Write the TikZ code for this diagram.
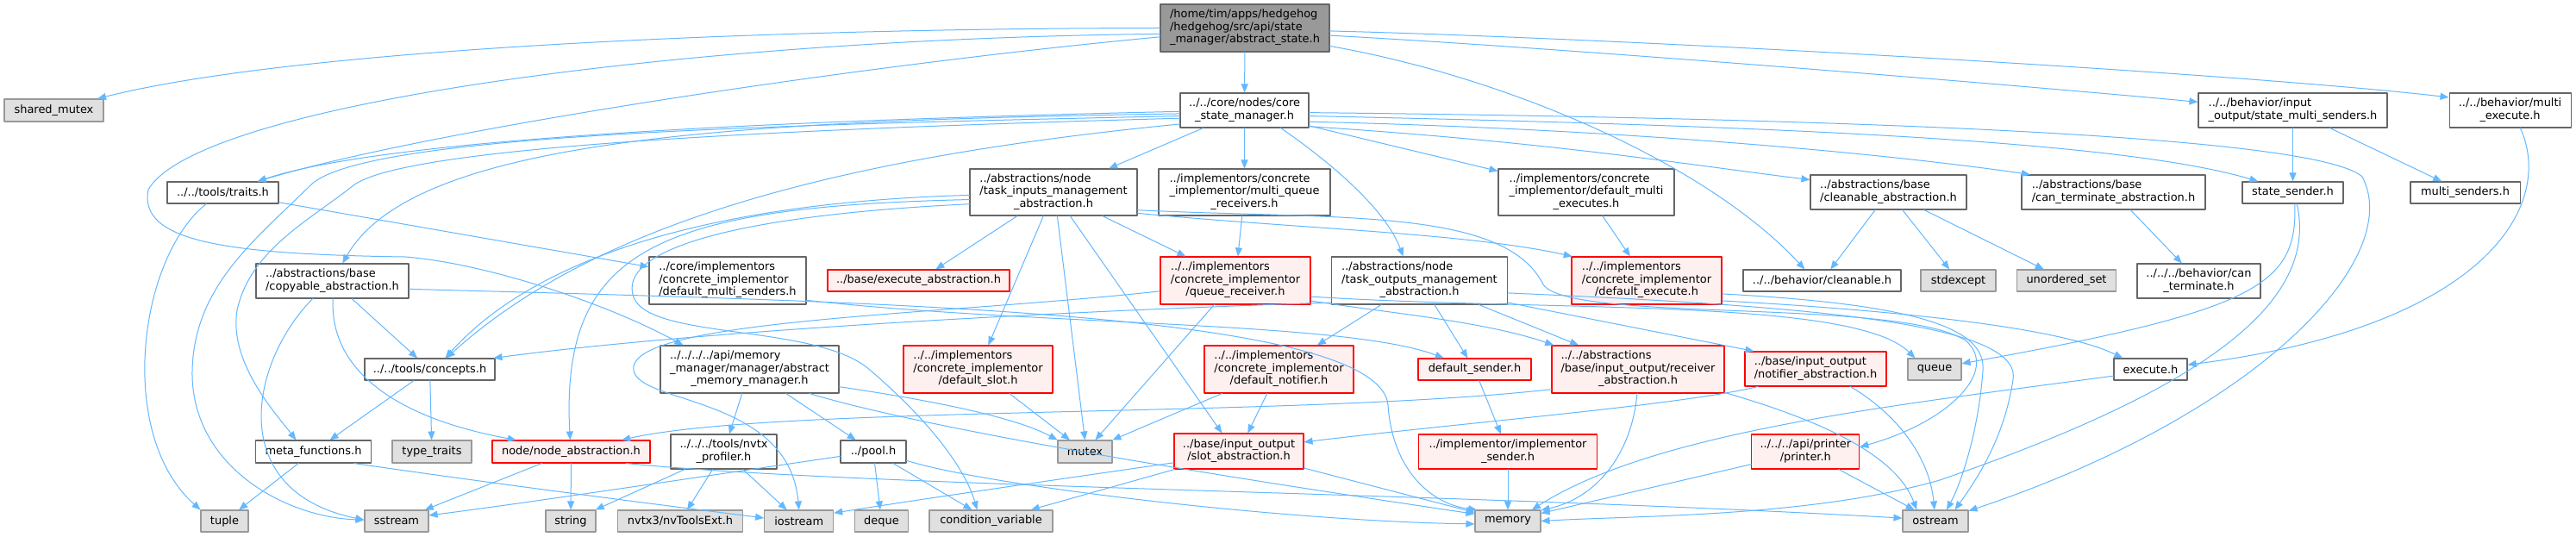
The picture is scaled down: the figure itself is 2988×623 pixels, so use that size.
\documentclass[tikz,border=0pt]{standalone}
\usepackage{fontspec}
\setmainfont{DejaVu Sans}
\usetikzlibrary{arrows.meta}
\definecolor{edgeblue}{HTML}{63B8FF}
\definecolor{boxline}{HTML}{666666}
\definecolor{extline}{HTML}{999999}
\definecolor{extfill}{HTML}{E0E0E0}
\definecolor{mainfill}{HTML}{999999}
\definecolor{trfill}{HTML}{FFF0F0}
\newcommand{\flines}[2]{\begin{tabular}{@{}l@{}}#1\\\multicolumn{1}{@{}c@{}}{#2}\end{tabular}}
\begin{document}
\begin{tikzpicture}[x=0.75pt,y=-0.75pt,line cap=round,line join=round,
  font=\fontsize{9.7}{10.9}\selectfont,
  file/.style={draw=boxline,fill=white,line width=0.8pt,inner xsep=0pt,inner ysep=0pt,minimum height=25*0.75pt},
  sysfile/.style={file,draw=extline,fill=extfill},
  cutfile/.style={file,draw=red,fill=trfill},
  topfile/.style={file,fill=mainfill},
  wd/.style={minimum width=#1*0.75pt},
  ht/.style={minimum height=#1*0.75pt},
  dep/.style={draw=edgeblue,line width=0.75pt,-{Triangle[length=7.5pt,width=6pt]}}]
  \useasboundingbox (0,0) rectangle (2988,623);
  \fill[white] (0,0) rectangle (2988,623);
  % row 0
  \node[topfile,wd=196,ht=55] (main) at (1444,32.5) {\flines{/home/tim/apps/hedgehog\\/hedgehog/src/api/state}{\_manager/abstract\_state.h}};
  % row 1
  \node[sysfile,wd=115,ht=26] (shmutex) at (62.5,128) {shared\_mutex};
  \node[file,wd=149,ht=40] (stm) at (1443.5,128) {\flines{../../core/nodes/core}{\_state\_manager.h}};
  \node[file,wd=219,ht=40] (sms) at (2659.5,128) {\flines{../../behavior/input}{\_output/state\_multi\_senders.h}};
  \node[file,wd=141,ht=40] (bme) at (2911.5,128) {\flines{../../behavior/multi}{\_execute.h}};
  % row 2
  \node[file,wd=129] (traits) at (258.5,223.5) {../../tools/traits.h};
  \node[file,wd=194,ht=54] (tim) at (1222,223) {\flines{../abstractions/node\\/task\_inputs\_management}{\_abstraction.h}};
  \node[file,wd=199,ht=54] (mqr) at (1443.5,223) {\flines{../implementors/concrete\\\_implementor/multi\_queue}{\_receivers.h}};
  \node[file,wd=204,ht=54] (dme) at (1840,223) {\flines{../implementors/concrete\\\_implementor/default\_multi}{\_executes.h}};
  \node[file,wd=181,ht=40] (cla) at (2190.5,223) {\flines{../abstractions/base}{/cleanable\_abstraction.h}};
  \node[file,wd=213,ht=40] (cta) at (2451.5,223) {\flines{../abstractions/base}{/can\_terminate\_abstraction.h}};
  \node[file,wd=117] (ssend) at (2659.5,223.5) {state\_sender.h};
  \node[file,wd=127] (msend) at (2859.5,223.5) {multi\_senders.h};
  % row 3
  \node[file,wd=177,ht=40] (copyable) at (385.5,326) {\flines{../abstractions/base}{/copyable\_abstraction.h}};
  \node[file,wd=182,ht=55] (dms) at (844,325.5) {\flines{../core/implementors\\/concrete\_implementor}{/default\_multi\_senders.h}};
  \node[cutfile,wd=211] (exab) at (1065.5,325.5) {../base/execute\_abstraction.h};
  \node[cutfile,wd=174,ht=55] (qrec) at (1433,325.5) {\flines{../../implementors\\/concrete\_implementor}{/queue\_receiver.h}};
  \node[file,wd=204,ht=55] (tom) at (1646.5,325.5) {\flines{../abstractions/node\\/task\_outputs\_management}{\_abstraction.h}};
  \node[cutfile,wd=174,ht=55] (dex) at (1910,325.5) {\flines{../../implementors\\/concrete\_implementor}{/default\_execute.h}};
  \node[file,wd=183] (bcl) at (2113.5,325.5) {../../behavior/cleanable.h};
  \node[sysfile,wd=87] (stdexc) at (2271.5,325.5) {stdexcept};
  \node[sysfile,wd=115] (uset) at (2397,325.5) {unordered\_set};
  \node[file,wd=143,ht=40] (bct) at (2550.5,326) {\flines{../../../behavior/can}{\_terminate.h}};
  % row 4
  \node[file,wd=151] (concepts) at (498.5,428.5) {../../tools/concepts.h};
  \node[file,wd=207,ht=55] (amm) at (869.5,428.5) {\flines{../../../../api/memory\\\_manager/manager/abstract}{\_memory\_manager.h}};
  \node[cutfile,wd=173,ht=55] (dslot) at (1134.5,428.5) {\flines{../../implementors\\/concrete\_implementor}{/default\_slot.h}};
  \node[cutfile,wd=173,ht=55] (dnot) at (1483.5,428.5) {\flines{../../implementors\\/concrete\_implementor}{/default\_notifier.h}};
  \node[cutfile,wd=131] (dsend) at (1710.5,428.5) {default\_sender.h};
  \node[cutfile,wd=200,ht=55] (rab) at (1900,428.5) {\flines{../../abstractions\\/base/input\_output/receiver}{\_abstraction.h}};
  \node[cutfile,wd=164,ht=40] (nab) at (2106,428) {\flines{../base/input\_output}{/notifier\_abstraction.h}};
  \node[sysfile,wd=62] (queue) at (2244,428.5) {queue};
  \node[file,wd=85] (exe) at (2494.5,428.5) {execute.h};
  % row 5
  \node[file,wd=134,ht=26] (meta) at (363.5,524) {meta\_functions.h};
  \node[sysfile,wd=92,ht=26] (ttraits) at (501,524) {type\_traits};
  \node[cutfile,wd=183,ht=26] (nodeab) at (662.5,524) {node/node\_abstraction.h};
  \node[file,wd=123,ht=40] (nvtx) at (839.5,524) {\flines{../../../tools/nvtx}{\_profiler.h}};
  \node[file,wd=76,ht=26] (pool) at (1013,524) {../pool.h};
  \node[sysfile,wd=63,ht=26] (mutex) at (1258.5,524) {mutex};
  \node[cutfile,wd=150,ht=41] (slot) at (1437,523.5) {\flines{../base/input\_output}{/slot\_abstraction.h}};
  \node[cutfile,wd=207,ht=40] (isend) at (1749,524) {\flines{../implementor/implementor}{\_sender.h}};
  \node[cutfile,wd=125,ht=40] (printer) at (2094.3,524) {\flines{../../../api/printer}{/printer.h}};
  % row 6
  \node[sysfile,wd=55] (tuple) at (260.5,604.5) {tuple};
  \node[sysfile,wd=74] (sstream) at (460,604.5) {sstream};
  \node[sysfile,wd=58] (string) at (662,604.5) {string};
  \node[sysfile,wd=145] (nvtools) at (789,604.5) {nvtx3/nvToolsExt.h};
  \node[sysfile,wd=80] (iostream) at (926.7,604.5) {iostream};
  \node[sysfile,wd=62] (deque) at (1022.5,604.5) {deque};
  \node[sysfile,wd=143] (condvar) at (1149.5,604.5) {condition\_variable};
  \node[sysfile,wd=76] (memory) at (1749,604.5) {memory};
  \node[sysfile,wd=76] (ostream) at (2245,604.5) {ostream};

  % abstract_state.h
  \draw[dep] (main.180) .. controls (900,33) and (350,55) .. (shmutex.15);
  \draw[dep] (main) -- (stm);
  \draw[dep] (main.186) .. controls (1000,75) and (500,150) .. (traits.18);
  \draw[dep] (main.184) .. controls (800,45) and (230,120) .. (172,220) .. controls (160,280) and (260,295) .. (470,298) .. controls (560,305) and (700,350) .. (amm.160);
  \draw[dep] (main.-5) .. controls (1800,55) and (2300,95) .. (sms.175);
  \draw[dep] (main.-2) .. controls (1900,45) and (2600,85) .. (bme.168);
  \draw[dep] (main.-12) .. controls (1750,90) and (1980,190) .. (bcl.147);
  % core state_manager.h
  \draw[dep] (stm) -- (tim);
  \draw[dep] (stm) -- (mqr);
  \draw[dep] (stm.-26) .. controls (1560,200) and (1610,250) .. (tom.124);
  \draw[dep] (stm) -- (dme);
  \draw[dep] (stm.-14) .. controls (1800,165) and (1950,190) .. (cla.171);
  \draw[dep] (stm.-10) .. controls (1900,150) and (2200,180) .. (cta.168);
  \draw[dep] (stm.-5) .. controls (2000,145) and (2450,160) .. (ssend.162);
  \draw[dep] (stm.-2) .. controls (2200,138) and (2690,160) .. (2740,205) .. controls (2790,300) and (2620,480) .. (ostream.17);
  \draw[dep] (stm.181) .. controls (900,140) and (450,160) .. (traits.18);
  \draw[dep] (stm.183) .. controls (850,140) and (480,160) .. (copyable.60);
  \draw[dep] (stm.185) .. controls (900,145) and (420,155) .. (360,215) .. controls (300,275) and (225,330) .. (223,430) .. controls (221,540) and (330,600) .. (sstream.178);
  \draw[dep] (stm.187) .. controls (900,150) and (470,170) .. (410,215) .. controls (360,255) and (290,290) .. (275,360) .. controls (265,420) and (320,480) .. (meta.146);
  \draw[dep] (stm.192) .. controls (1000,180) and (700,250) .. (concepts.34);
  % task_inputs_management_abstraction.h
  \draw[dep] (tim) -- (exab);
  \draw[dep] (tim) -- (dslot);
  \draw[dep] (tim.-81) -- (mutex.north);
  \draw[dep] (tim.-55) -- (slot.133);
  \draw[dep] (tim) -- (qrec);
  \draw[dep] (tim.-14) .. controls (1500,265) and (1700,270) .. (dex.162);
  \draw[dep] (tim.-12) .. controls (1550,255) and (1745,240) .. (1790,330) .. controls (1820,375) and (2200,345) .. (2280,395) .. controls (2320,430) and (2260,490) .. (printer.5);
  \draw[dep] (tim.182) .. controls (820,235) and (620,300) .. (concepts.36);
  \draw[dep] (tim.185) .. controls (760,240) and (650,290) .. (nodeab.95);
  \draw[dep] (tim.188) .. controls (850,250) and (715,290) .. (735,345) .. controls (755,395) and (950,375) .. (1010,430) .. controls (1080,490) and (1120,545) .. (condvar.141);
  % second row, right
  \draw[dep] (mqr) -- (qrec);
  \draw[dep] (dme) -- (dex);
  \draw[dep] (cla) -- (bcl);
  \draw[dep] (cla) -- (stdexc);
  \draw[dep] (cla) -- (uset);
  \draw[dep] (cta) -- (bct);
  \draw[dep] (sms) -- (ssend);
  \draw[dep] (sms) -- (msend);
  \draw[dep] (bme.-60) .. controls (2965,240) and (2880,380) .. (exe.7);
  \draw[dep] (ssend.-80) .. controls (2665,330) and (2620,360) .. (queue.12);
  \draw[dep] (ssend.-70) .. controls (2690,350) and (2560,450) .. (2250,557) .. controls (2100,600) and (1900,598) .. (memory.east);
  % copyable, traits, meta, concepts
  \draw[dep] (copyable) -- (concepts);
  \draw[dep] (copyable.-88) .. controls (382,430) and (460,485) .. (nodeab.168);
  \draw[dep] (copyable.-138) .. controls (290,420) and (260,570) .. (sstream.178);
  \draw[dep] (copyable.-6) .. controls (1000,350) and (1600,360) .. (1610,470) .. controls (1615,545) and (1660,585) .. (memory.160);
  \draw[dep] (traits.-146) .. controls (160,300) and (135,505) .. (tuple.155);
  \draw[dep] (traits) -- (dms);
  \draw[dep] (meta) -- (tuple);
  \draw[dep] (meta.-16) .. controls (600,565) and (800,590) .. (iostream.175);
  \draw[dep] (concepts) -- (meta);
  \draw[dep] (concepts) -- (ttraits);
  % node_abstraction.h, memory manager, pool
  \draw[dep] (nodeab) -- (sstream);
  \draw[dep] (nodeab) -- (string);
  \draw[dep] (nodeab.-12) .. controls (1000,565) and (1700,572) .. (ostream.175);
  \draw[dep] (amm) -- (nvtx);
  \draw[dep] (amm) -- (pool);
  \draw[dep] (amm.-11) .. controls (1050,460) and (1170,480) .. (mutex.157);
  \draw[dep] (amm.-22) .. controls (1100,505) and (1500,565) .. (memory.168);
  \draw[dep] (nvtx) -- (string);
  \draw[dep] (nvtx) -- (nvtools);
  \draw[dep] (nvtx) -- (iostream);
  \draw[dep] (pool.188) .. controls (800,555) and (600,585) .. (sstream.10);
  \draw[dep] (pool) -- (deque);
  \draw[dep] (pool) -- (condvar);
  \draw[dep] (pool.-15) .. controls (1150,565) and (1500,605) .. (memory.185);
  % implementors
  \draw[dep] (dslot) -- (mutex);
  \draw[dep] (qrec) -- (mutex);
  \draw[dep] (qrec.-15) .. controls (1600,362) and (1720,372) .. (rab.164);
  \draw[dep] (qrec.-12) .. controls (1800,362) and (2150,345) .. (queue.150);
  \draw[dep] (qrec.188) .. controls (1100,365) and (745,370) .. (735,425) .. controls (728,470) and (915,455) .. (iostream.north);
  \draw[dep] (tom.194) .. controls (1200,362) and (800,385) .. (concepts.10);
  \draw[dep] (tom) -- (dnot);
  \draw[dep] (tom) -- (dsend);
  \draw[dep] (tom) -- (rab);
  \draw[dep] (tom.-14) -- (nab.164);
  \draw[dep] (tom.-8) .. controls (2100,355) and (2345,375) .. (2335,440) .. controls (2325,510) and (2290,560) .. (ostream.30);
  \draw[dep] (dex.-15) .. controls (2200,360) and (2390,380) .. (exe.158);
  \draw[dep] (dex.-10) .. controls (2200,352) and (2305,375) .. (2300,430) .. controls (2295,500) and (2275,560) .. (ostream.45);
  \draw[dep] (dnot) -- (mutex);
  \draw[dep] (dnot) -- (slot);
  \draw[dep] (dsend) -- (isend);
  \draw[dep] (dms.-14) .. controls (1200,378) and (1560,372) .. (dsend.160);
  % input/output abstractions
  \draw[dep] (rab.193) .. controls (1500,485) and (900,470) .. (nodeab.13);
  \draw[dep] (rab.-92) .. controls (1892,530) and (1850,578) .. (memory.18);
  \draw[dep] (rab.-15) .. controls (2120,490) and (2200,530) .. (ostream.149);
  \draw[dep] (nab.-163) .. controls (1950,470) and (1700,490) .. (slot.8);
  \draw[dep] (nab.-27) .. controls (2200,480) and (2238,530) .. (ostream.95);
  \draw[dep] (printer) -- (memory);
  \draw[dep] (printer) -- (ostream);
  \draw[dep] (exe.190) .. controls (2200,470) and (1920,500) .. (memory.25);
  \draw[dep] (slot.190) .. controls (1200,560) and (1050,582) .. (iostream.13);
  \draw[dep] (slot) -- (condvar);
  \draw[dep] (slot) -- (memory);
  \draw[dep] (isend) -- (memory);
\end{tikzpicture}
\end{document}
